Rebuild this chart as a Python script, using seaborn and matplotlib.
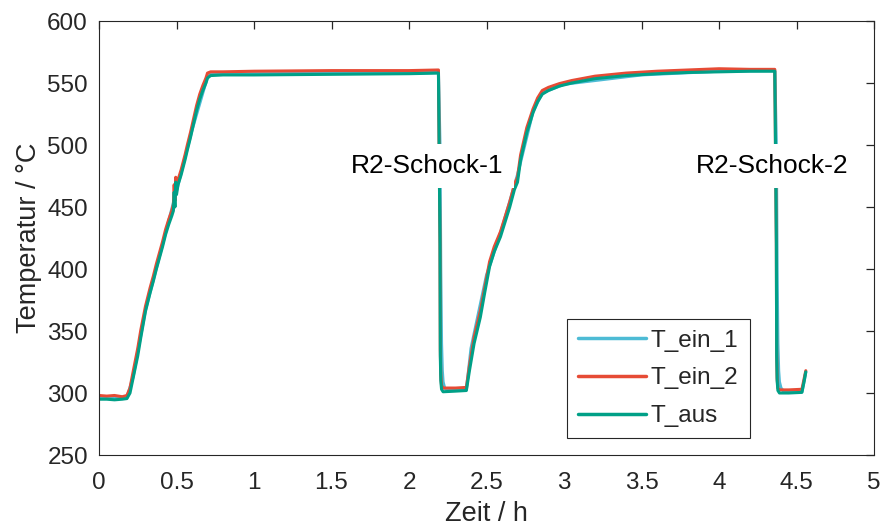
import numpy as np
import pandas as pd
import matplotlib
matplotlib.use("Agg")
import matplotlib.pyplot as plt
import seaborn as sns

t_aus = [0.00, 0.05, 0.10, 0.15, 0.18, 0.20, 0.22, 0.25, 0.27, 0.30, 0.33, 0.35,
         0.37, 0.39, 0.41, 0.43, 0.45, 0.47, 0.48, 0.485, 0.49, 0.495, 0.50, 0.51,
         0.53, 0.555, 0.57, 0.59, 0.61, 0.63, 0.65, 0.67, 0.69, 0.70, 0.72, 0.80,
         1.00, 1.50, 2.00, 2.19, 2.20, 2.202, 2.205, 2.21, 2.22, 2.30, 2.37, 2.39,
         2.42, 2.46, 2.49, 2.52, 2.55, 2.59, 2.62, 2.65, 2.68, 2.70, 2.72, 2.76,
         2.80, 2.83, 2.86, 2.90, 2.97, 3.05, 3.20, 3.40, 3.60, 3.80, 4.00, 4.20,
         4.36, 4.37, 4.372, 4.375, 4.38, 4.39, 4.45, 4.535, 4.55, 4.56]
T_aus = [295, 295, 294.5, 295, 295.5, 300, 312, 330, 345, 366, 381, 390,
         400, 409, 418, 428, 436, 443, 447, 462, 450, 470, 460, 468,
         476, 488, 496, 506, 517, 528, 537, 544, 550, 554, 556, 556.5,
         556.5, 557, 557.5, 558, 420, 330, 310, 303, 301, 301.5, 302, 318,
         340, 361, 382, 402, 414, 426, 438, 450, 464, 470, 488, 510,
         526, 535, 541, 544, 547.5, 550, 553.5, 556, 557.5, 558.5, 559, 559.5,
         559.5, 420, 330, 310, 302, 300, 300, 300.5, 310, 317]

t_ein_2 = [0.00, 0.05, 0.10, 0.15, 0.18, 0.20, 0.22, 0.25, 0.27, 0.30, 0.33, 0.35,
           0.37, 0.39, 0.41, 0.43, 0.45, 0.47, 0.48, 0.485, 0.49, 0.495, 0.50, 0.51,
           0.53, 0.555, 0.57, 0.59, 0.61, 0.63, 0.65, 0.67, 0.69, 0.70, 0.72, 0.80,
           1.00, 1.50, 2.00, 2.19, 2.20, 2.202, 2.205, 2.21, 2.22, 2.30, 2.37, 2.39,
           2.42, 2.46, 2.49, 2.52, 2.55, 2.59, 2.62, 2.65, 2.68, 2.70, 2.72, 2.76,
           2.80, 2.83, 2.86, 2.90, 2.97, 3.05, 3.20, 3.40, 3.60, 3.80, 4.00, 4.20,
           4.36, 4.37, 4.372, 4.375, 4.38, 4.39, 4.45, 4.535, 4.55, 4.56]
T_ein_2 = [298, 297.5, 298, 297, 298, 304, 317, 336, 351, 370, 385, 394,
           404, 413, 422, 432, 440, 447, 452, 468, 455, 474, 465, 472,
           480, 492, 500, 510, 521, 532, 541, 548, 554, 558, 559, 559,
           559.5, 560, 560, 560.5, 420, 335, 315, 306, 304, 304, 304.5, 322,
           345, 366, 386, 406, 418, 430, 442, 454, 468, 474, 492, 514,
           529, 538, 544, 546.5, 549.5, 552, 555.5, 558, 559.5, 560.5, 561.5, 561,
           561, 420, 335, 312, 304, 302.5, 302.5, 303, 312, 318]

t_ein_1 = [0.00, 0.10, 0.18, 0.22, 0.30, 0.40, 0.50, 0.60, 0.70, 0.72, 1.00,
           2.00, 2.19, 2.20, 2.205, 2.21, 2.215, 2.22, 2.23, 2.25, 2.37, 2.40,
           2.50, 2.60, 2.70, 2.80, 2.86, 3.00, 3.50, 4.00, 4.36, 4.37, 4.375,
           4.38, 4.385, 4.39, 4.40, 4.42, 4.535, 4.55, 4.56]
T_ein_1 = [296, 295.5, 296, 313, 367, 415, 463, 512, 555, 557, 557.5,
           558, 558.5, 500, 400, 340, 318, 309, 304, 302, 302.5, 336,
           395, 433, 476, 527, 542, 549, 556.5, 559.5, 560, 500, 400,
           340, 318, 309, 304, 301, 301, 310, 317]

serien = ["T_ein_1", "T_ein_2", "T_aus"]
farben = ["#4DBBD5", "#E64B35", "#00A087"]

df = pd.concat([
    pd.DataFrame({"Zeit": t_ein_1, "Temperatur": T_ein_1, "Sensor": "T_ein_1"}),
    pd.DataFrame({"Zeit": t_ein_2, "Temperatur": T_ein_2, "Sensor": "T_ein_2"}),
    pd.DataFrame({"Zeit": t_aus, "Temperatur": T_aus, "Sensor": "T_aus"}),
], ignore_index=True)

sns.set_style("white")
plt.rcParams["font.family"] = ["Liberation Sans", "DejaVu Sans"]
fs = 17.5
fs_label = 19.5

fig = plt.figure(figsize=(8.81, 5.31), dpi=100)
ax = fig.add_axes([99 / 881, 76 / 531, 775 / 881, 434 / 531])

sns.lineplot(data=df, x="Zeit", y="Temperatur", hue="Sensor", hue_order=serien,
             palette=farben, estimator=None, sort=False, linewidth=2.2, ax=ax)

ax.set_xlim(0, 5)
ax.set_ylim(250, 600)
ax.set_xticks(np.arange(0, 5.01, 0.5))
ax.set_xticklabels(["0", "0.5", "1", "1.5", "2", "2.5", "3", "3.5", "4", "4.5", "5"])
ax.set_yticks(np.arange(250, 601, 50))
ax.tick_params(direction="in", length=5.5, width=0.9, top=True, right=True,
               labelsize=fs, colors="#262626")
ax.tick_params(axis="x", pad=12)
ax.tick_params(axis="y", pad=8)
for s in ax.spines.values():
    s.set_visible(True)
    s.set_color("#262626")
    s.set_linewidth(0.8)

ax.set_xlabel("Zeit / h", fontsize=fs_label, color="#262626", labelpad=5)
ax.set_ylabel("Temperatur / °C", fontsize=fs_label, color="#262626", labelpad=4)

for x, y, txt in [(2.12, 483, "R2-Schock-1"), (4.34, 483, "R2-Schock-2")]:
    ax.text(x, y, txt, ha="center", va="center", fontsize=19, color="black",
            zorder=5, bbox=dict(facecolor="white", edgecolor="none", pad=7))

leg = ax.legend(loc="lower left", bbox_to_anchor=(0.604, 0.039), borderaxespad=0,
                fontsize=fs, frameon=True, fancybox=False, framealpha=1,
                handlelength=2.8, handletextpad=0.2, borderpad=0.45,
                labelspacing=0.65)
leg.get_frame().set_edgecolor("#262626")
leg.get_frame().set_linewidth(0.8)
for line in leg.get_lines():
    line.set_linewidth(2.5)

fig.savefig("out.png", dpi=100)
